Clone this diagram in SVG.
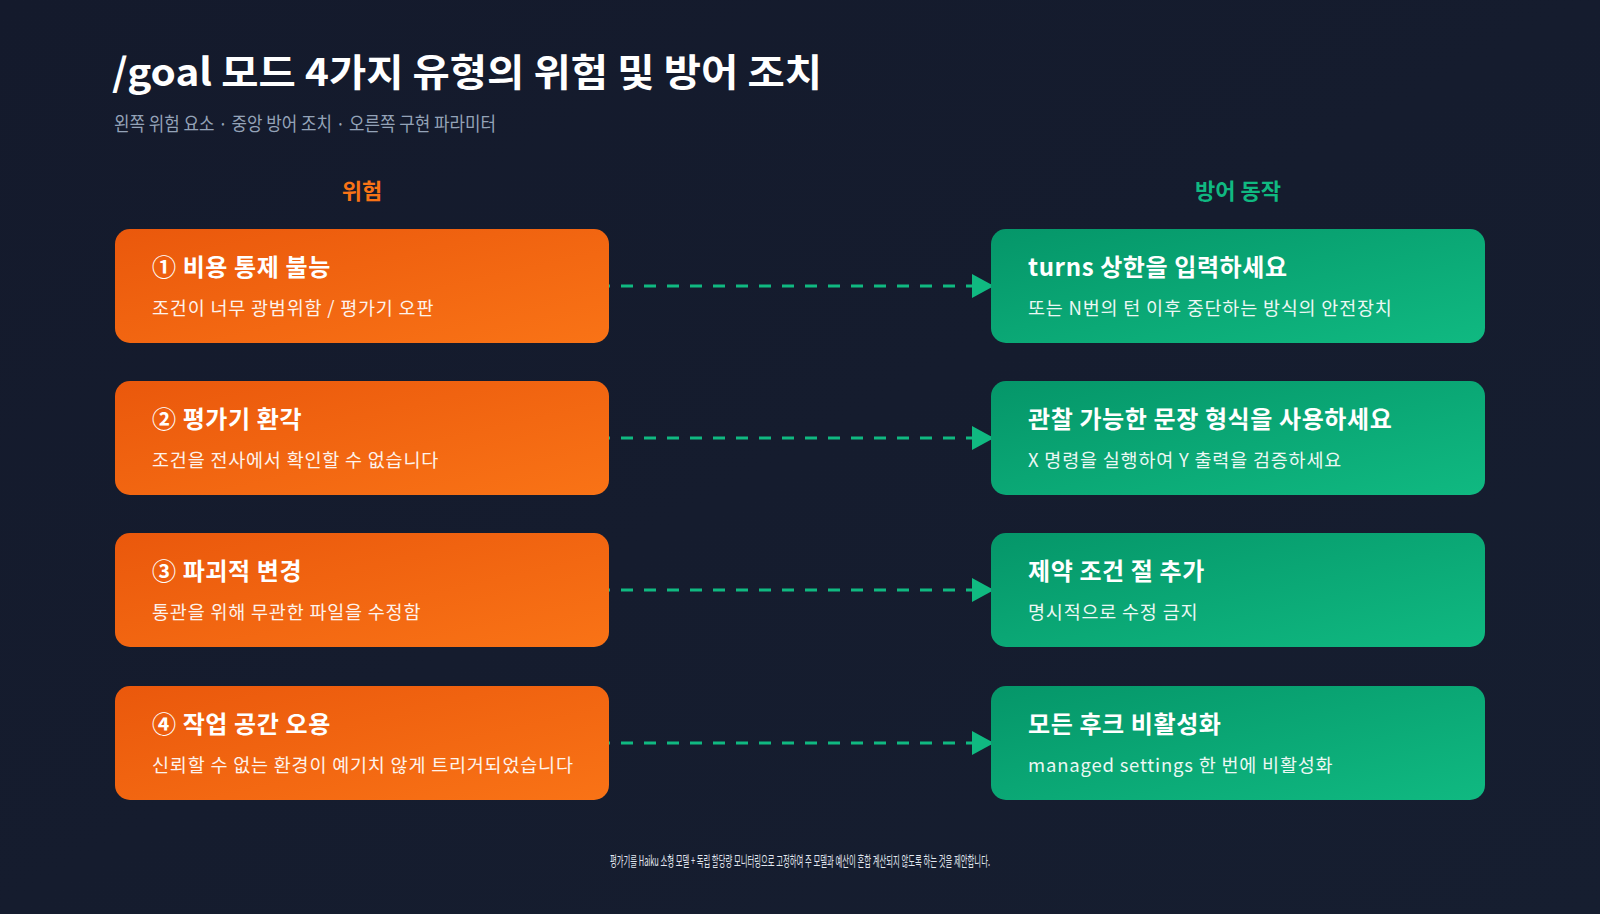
<svg xmlns="http://www.w3.org/2000/svg" width="1600" height="914" viewBox="0 0 1600 914">
<defs>
<linearGradient id="bg" x1="0" y1="0" x2="1" y2="1"><stop offset="0" stop-color="#141a2c"/><stop offset="1" stop-color="#161e30"/></linearGradient>
<linearGradient id="og" x1="0" y1="0" x2="1" y2="1"><stop offset="0" stop-color="#ea580c"/><stop offset="1" stop-color="#f97316"/></linearGradient>
<linearGradient id="gg" x1="0" y1="0" x2="1" y2="1"><stop offset="0" stop-color="#059669"/><stop offset="1" stop-color="#10b981"/></linearGradient>
<marker id="ar" markerWidth="22" markerHeight="24" refX="20" refY="12" markerUnits="userSpaceOnUse" orient="auto"><path d="M0,0 L22,12 L0,24 Z" fill="#10b981"/></marker>
<style>
text{font-family:"Noto Sans CJK KR","Noto Sans",sans-serif;}
.t{fill:#fff;font-size:24px;font-weight:700;letter-spacing:0.6px}
.s{fill:#fff;font-size:18.5px;opacity:.92;letter-spacing:0.8px}
.c{stroke:#10b981;stroke-width:3;stroke-dasharray:12 11;fill:none}
</style>
</defs>
<rect width="1600" height="914" fill="url(#bg)"/>
<text x="112" y="86" fill="#fff" font-size="38" font-weight="700" textLength="710" lengthAdjust="spacingAndGlyphs">/goal 모드 4가지 유형의 위험 및 방어 조치</text>
<text x="114" y="131" fill="#94a3b8" font-size="19" textLength="382" lengthAdjust="spacingAndGlyphs">왼쪽 위험 요소 · 중앙 방어 조치 · 오른쪽 구현 파라미터</text>
<text x="362" y="199" fill="#f97316" font-size="22" font-weight="700" text-anchor="middle">위험</text>
<text x="1238" y="199" fill="#10b981" font-size="22" font-weight="700" text-anchor="middle">방어 동작</text>
<g id="connectors">
<line class="c" x1="598" y1="286" x2="992" y2="286" marker-end="url(#ar)"/>
<line class="c" x1="598" y1="438" x2="992" y2="438" marker-end="url(#ar)"/>
<line class="c" x1="598" y1="590" x2="992" y2="590" marker-end="url(#ar)"/>
<line class="c" x1="598" y1="743" x2="992" y2="743" marker-end="url(#ar)"/>
</g>
<g id="r1"><rect x="115" y="229" width="494" height="114" rx="15" fill="url(#og)"/><text class="t" x="152" y="276">① 비용 통제 불능</text><text class="s" x="152" y="315">조건이 너무 광범위함 / 평가기 오판</text></g>
<g id="r2"><rect x="115" y="381" width="494" height="114" rx="15" fill="url(#og)"/><text class="t" x="152" y="428">② 평가기 환각</text><text class="s" x="152" y="467">조건을 전사에서 확인할 수 없습니다</text></g>
<g id="r3"><rect x="115" y="533" width="494" height="114" rx="15" fill="url(#og)"/><text class="t" x="152" y="580">③ 파괴적 변경</text><text class="s" x="152" y="619">통관을 위해 무관한 파일을 수정함</text></g>
<g id="r4"><rect x="115" y="686" width="494" height="114" rx="15" fill="url(#og)"/><text class="t" x="152" y="733">④ 작업 공간 오용</text><text class="s" x="152" y="772">신뢰할 수 없는 환경이 예기치 않게 트리거되었습니다</text></g>
<g id="d1"><rect x="991" y="229" width="494" height="114" rx="15" fill="url(#gg)"/><text class="t" x="1028" y="276">turns 상한을 입력하세요</text><text class="s" x="1028" y="315">또는 N번의 턴 이후 중단하는 방식의 안전장치</text></g>
<g id="d2"><rect x="991" y="381" width="494" height="114" rx="15" fill="url(#gg)"/><text class="t" x="1028" y="428">관찰 가능한 문장 형식을 사용하세요</text><text class="s" x="1028" y="467">X 명령을 실행하여 Y 출력을 검증하세요</text></g>
<g id="d3"><rect x="991" y="533" width="494" height="114" rx="15" fill="url(#gg)"/><text class="t" x="1028" y="580">제약 조건 절 추가</text><text class="s" x="1028" y="619">명시적으로 수정 금지</text></g>
<g id="d4"><rect x="991" y="686" width="494" height="114" rx="15" fill="url(#gg)"/><text class="t" x="1028" y="733">모든 후크 비활성화</text><text class="s" x="1028" y="772">managed settings 한 번에 비활성화</text></g>
<text x="610" y="866" fill="#e2e8f0" font-size="14" textLength="380" lengthAdjust="spacingAndGlyphs">평가기를 Haiku 소형 모델 + 독립 할당량 모니터링으로 고정하여 주 모델과 예산이 혼합 계산되지 않도록 하는 것을 제안합니다.</text>
</svg>
